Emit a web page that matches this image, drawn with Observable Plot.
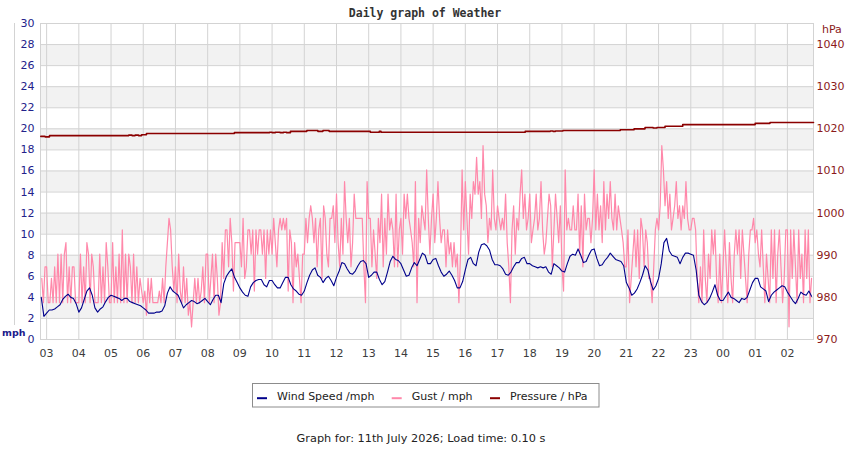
<!DOCTYPE html>
<html>
<head>
<meta charset="utf-8">
<script src="https://cdn.jsdelivr.net/npm/d3@7"></script>
<script src="https://cdn.jsdelivr.net/npm/@observablehq/plot@0.6"></script>
<style>
  html, body { margin: 0; padding: 0; background: #fff; }
  #wrap { position: relative; width: 850px; height: 450px; overflow: hidden; }
  #wrap svg { position: absolute; left: 0; top: 0; }
</style>
</head>
<body>
<div id="wrap"></div>
<script>
// ---- Weather log, one day (hours since midnight of the first day) ----

// Wind speed (mph), one reading every 5 minutes from 02:50
const windStart = 2 + 50 / 60;
const windStepH = 5 / 60;
const windMph = [
  4.0, 2.2,
  2.5, 2.8, 2.8, 2.9, 3.1, 3.3, 3.8, 4.1, 4.3, 4.0, 3.9, 3.4, // 03
  2.6, 3.0, 3.8, 4.6, 4.9, 4.2, 3.0, 2.6, 2.9, 3.1, 3.6, 4.0, // 04
  4.2, 4.1, 4.0, 3.9, 3.7, 3.9, 3.9, 3.6, 3.5, 3.4, 3.3, 3.2, // 05
  3.0, 2.8, 2.5, 2.5, 2.5, 2.6, 2.6, 2.7, 3.2, 4.4, 5.0, 4.6, // 06
  4.4, 4.2, 3.6, 3.0, 3.3, 3.5, 3.7, 3.6, 3.4, 3.5, 3.7, 3.9, // 07
  3.6, 3.3, 3.8, 4.2, 4.2, 3.5, 5.3, 6.0, 6.4, 6.7, 5.9, 5.4, // 08
  4.9, 4.5, 4.2, 4.1, 5.0, 5.4, 5.6, 5.7, 5.7, 5.2, 5.0, 5.6, // 09
  5.6, 5.2, 4.9, 4.9, 5.4, 5.9, 5.9, 5.2, 4.8, 4.6, 4.3, 4.2, // 10
  4.6, 5.4, 6.1, 6.6, 6.8, 6.1, 5.9, 5.4, 5.8, 6.0, 5.6, 5.1, // 11
  5.9, 6.5, 7.3, 7.2, 6.7, 6.3, 6.2, 6.5, 7.0, 7.4, 7.5, 7.2, // 12
  5.9, 6.1, 6.4, 6.4, 5.7, 5.2, 5.5, 6.4, 7.4, 7.9, 7.6, 7.5, // 13
  7.2, 6.6, 6.0, 6.1, 6.8, 7.3, 7.0, 7.6, 8.2, 8.0, 7.2, 7.2, // 14
  7.6, 7.7, 7.0, 6.4, 6.0, 6.2, 6.5, 6.1, 5.6, 4.9, 4.9, 5.5, // 15
  6.6, 7.6, 7.8, 7.2, 7.0, 8.3, 9.0, 9.1, 8.9, 8.5, 7.6, 7.1, // 16
  7.1, 7.0, 6.7, 6.2, 6.1, 6.4, 6.9, 7.3, 7.3, 7.7, 7.8, 7.2, // 17
  7.2, 7.0, 6.9, 6.8, 6.9, 6.8, 6.9, 6.4, 6.2, 7.2, 7.0, 6.8, // 18
  6.5, 6.4, 7.2, 7.9, 8.1, 8.0, 8.6, 8.0, 7.3, 7.4, 8.0, 8.5, // 19
  8.6, 7.7, 7.0, 7.1, 7.5, 7.8, 8.2, 7.9, 7.6, 7.5, 7.4, 7.0, // 20
  5.4, 4.9, 4.2, 4.4, 4.8, 5.4, 6.1, 7.0, 6.6, 5.5, 4.7, 5.1, // 21
  5.8, 7.2, 9.2, 9.6, 8.4, 8.0, 7.9, 7.8, 7.2, 7.8, 8.2, 8.2, // 22
  8.1, 8.0, 6.6, 4.2, 3.6, 3.3, 3.5, 3.9, 4.5, 5.2, 4.2, 3.7, // 23
  3.7, 4.1, 4.5, 4.0, 3.9, 3.7, 3.5, 3.9, 3.8, 4.0, 4.7, 5.4, // 00
  5.8, 5.8, 5.0, 4.8, 4.6, 3.6, 4.2, 4.5, 4.7, 4.9, 5.1, 5.0, // 01
  4.5, 4.1, 3.7, 3.4, 3.9, 4.5, 4.3, 4.2, 4.6, 4.1            // 02
];

// Gust (mph), one reading every 3 minutes from 02:51
const gustStart = 2 + 51 / 60;
const gustStepH = 3 / 60;
const gustMph = [
  5.8, 3.5, 6.9,
  6.9, 3.5, 3.5, 5.8, 3.5, 6.9, 3.5, 8.1, 3.5, 8.1, 3.5, 8.1, 9.2, 3.5, 6.9, 3.5, 6.9, 6.9, 3.5, 3.5, // 03
  3.5, 8.1, 3.5, 6.9, 3.5, 9.2, 8.1, 3.5, 8.1, 6.9, 3.5, 3.5, 3.5, 8.1, 3.5, 6.9, 3.5, 9.2, 6.9, 3.5, // 04
  3.5, 9.2, 3.5, 6.9, 3.5, 8.1, 3.5, 10.4, 3.5, 8.1, 3.5, 8.1, 6.9, 3.5, 8.1, 3.5, 6.9, 3.5, 5.8, 4.6, // 05
  3.5, 4.6, 2.3, 5.8, 3.5, 5.8, 3.5, 3.5, 3.5, 3.5, 4.6, 3.5, 5.8, 3.5, 6.9, 9.2, 11.5, 10.4, 6.9, 4.6, // 06
  6.9, 3.5, 8.1, 4.6, 3.5, 6.9, 3.5, 5.8, 2.3, 3.5, 1.2, 3.5, 5.8, 3.5, 5.8, 3.5, 4.6, 6.9, 3.5, 8.1, // 07
  8.1, 3.5, 5.8, 8.1, 3.5, 8.1, 5.8, 2.3, 3.5, 9.2, 5.8, 10.4, 10.4, 6.9, 11.5, 9.2, 4.6, 9.2, 9.2, 9.2, // 08
  9.2, 6.9, 11.5, 5.8, 6.9, 10.4, 10.4, 8.1, 10.4, 4.6, 10.4, 8.1, 10.4, 10.4, 8.1, 10.4, 5.8, 10.4, 8.1, 10.4, // 09
  8.1, 11.5, 9.2, 6.9, 10.4, 11.5, 10.4, 11.5, 10.4, 11.5, 4.6, 10.4, 9.2, 3.5, 9.2, 6.9, 8.1, 5.8, 3.5, 8.1, // 10
  8.1, 11.5, 9.2, 11.5, 12.7, 11.5, 9.2, 11.5, 6.9, 10.4, 11.5, 5.8, 12.7, 11.5, 8.1, 6.9, 11.5, 11.5, 12.7, 9.2, // 11
  13.8, 9.2, 6.9, 11.5, 8.1, 15.0, 11.5, 9.2, 11.5, 6.9, 9.2, 13.8, 11.5, 11.5, 11.5, 11.5, 11.5, 6.9, 3.5, 15.0, // 12
  11.5, 11.5, 6.9, 10.4, 8.1, 5.8, 11.5, 9.2, 13.8, 6.9, 11.5, 8.1, 13.8, 10.4, 11.5, 10.4, 6.9, 13.8, 6.9, 10.4, // 13
  11.5, 8.1, 13.8, 11.5, 13.8, 11.5, 10.4, 9.2, 6.9, 15.0, 3.5, 11.5, 9.2, 12.7, 11.5, 10.4, 16.1, 11.5, 8.1, 11.5, // 14
  13.8, 9.2, 11.5, 15.0, 11.5, 9.2, 10.4, 10.4, 6.9, 10.4, 8.1, 9.2, 6.9, 9.2, 6.9, 8.1, 3.5, 8.1, 16.1, 10.4, // 15
  15.0, 11.5, 8.1, 13.8, 11.5, 15.0, 13.8, 17.3, 13.8, 15.0, 11.5, 18.4, 13.8, 12.7, 9.2, 11.5, 10.4, 16.1, 11.5, 10.4, // 16
  12.7, 11.5, 10.4, 11.5, 10.4, 13.8, 9.2, 6.9, 3.5, 10.4, 12.7, 8.1, 11.5, 10.4, 13.8, 16.1, 11.5, 13.8, 10.4, 11.5, // 17
  13.8, 9.2, 10.4, 11.5, 13.8, 10.4, 11.5, 15.0, 10.4, 8.1, 9.2, 11.5, 13.8, 12.7, 6.9, 10.4, 13.8, 11.5, 9.2, 12.7, // 18
  6.9, 4.6, 16.1, 10.4, 11.5, 10.4, 10.4, 12.7, 10.4, 10.4, 13.8, 8.1, 12.7, 6.9, 13.8, 10.4, 11.5, 11.5, 9.2, 11.5, // 19
  16.1, 10.4, 13.8, 10.4, 12.7, 9.2, 15.0, 10.4, 13.8, 11.5, 15.0, 11.5, 10.4, 13.8, 10.4, 12.7, 11.5, 10.4, 9.2, 6.9, // 20
  6.9, 10.4, 3.5, 5.8, 8.1, 10.4, 6.9, 10.4, 5.8, 11.5, 10.4, 6.9, 10.4, 9.2, 5.8, 5.8, 3.5, 6.9, 10.4, 11.5, // 21
  10.4, 12.7, 18.4, 16.1, 12.7, 15.0, 11.5, 13.8, 10.4, 11.5, 12.7, 15.0, 11.5, 12.7, 10.4, 12.7, 11.5, 15.0, 11.5, 10.4, // 22
  10.4, 11.5, 11.5, 10.4, 5.8, 3.5, 6.9, 3.5, 10.4, 5.8, 3.5, 8.1, 5.8, 10.4, 8.1, 10.4, 5.8, 3.5, 8.1, 3.5, // 23
  6.9, 10.4, 6.9, 3.5, 9.2, 5.8, 3.5, 8.1, 10.4, 8.1, 10.4, 5.8, 10.4, 8.1, 5.8, 3.5, 8.1, 10.4, 10.4, 11.5, // 00
  9.2, 10.4, 8.1, 6.9, 10.4, 6.9, 3.5, 8.1, 5.8, 3.5, 10.4, 5.8, 10.4, 3.5, 8.1, 10.4, 6.9, 3.5, 5.8, 10.4, // 01
  10.4, 1.2, 10.4, 5.8, 10.4, 6.9, 3.5, 10.4, 5.8, 8.1, 3.5, 10.4, 5.8, 10.4, 3.5, 5.8 // 02
];

// Pressure (hPa): times at which the reading changed, and the new reading
const pressHour = [2.82, 2.95, 3.09, 5.55, 5.65, 5.75, 5.85, 5.95, 6.10, 8.83, 9.92, 10.0, 10.1, 10.25, 10.35, 10.45,
  10.57, 11.08, 11.42, 11.58, 11.77, 13.05, 13.33, 13.38, 17.86, 18.64, 18.72, 18.80, 19.03, 20.81, 21.24,
  21.58, 21.83, 21.95, 22.20, 22.75, 25.00, 25.46, 26.81];
const pressHpa = [1018.2, 1018.1, 1018.4, 1018.5, 1018.4, 1018.5, 1018.4, 1018.6, 1018.9, 1019.1, 1019.2, 1019.1, 1019.2, 1019.1, 1019.2, 1019.1,
  1019.4, 1019.6, 1019.4, 1019.6, 1019.4, 1019.2, 1019.4, 1019.2, 1019.4, 1019.5, 1019.4, 1019.5, 1019.6, 1019.8, 1020.0,
  1020.3, 1020.2, 1020.3, 1020.6, 1021.0, 1021.3, 1021.5, 1021.5];

// Axis ticks
const hourTicks = d3.range(3, 27);          // 03 … 02 next day
const mphTicks = d3.range(0, 31, 2);         // 0 … 30 mph
const hpaTicks = d3.range(970, 1041, 10);    // 970 … 1040 hPa

// Scale relation between the two y axes: 970 hPa at 0 mph, 10 hPa per 4 mph
const hpaBase = 970;
const hpaPerMph = 2.5;
const toMph = p => (p - hpaBase) / hpaPerMph;

const xDomain = [2.81, 26.81];
const yDomain = [0, 30];

const COLORS = { wind: "#00008b", gust: "#ff88aa", press: "#8b0000" };

const wind = windMph.map((v, i) => ({ t: windStart + i * windStepH, v }));
const gust = gustMph.map((v, i) => ({ t: gustStart + i * gustStepH, v }));
const press = pressHour.map((t, i) => ({ t, v: toMph(pressHpa[i]) }));

// Alternate shaded bands between the 2 mph gridlines
const bands = d3.range(2, 30, 4).map(b => ({ x1: xDomain[0], x2: xDomain[1], y1: b, y2: b + 2 }));

const GRID = "#d3d3d3";

const chart = Plot.plot({
  width: 850,
  height: 370,
  marginLeft: 40,
  marginRight: 37,
  marginTop: 23,
  marginBottom: 31,
  style: { fontFamily: "'DejaVu Sans', sans-serif", fontSize: "11px", background: "transparent", overflow: "visible" },
  x: { domain: xDomain, axis: null },
  y: { domain: yDomain, axis: null },
  marks: [
    Plot.rect(bands, { x1: "x1", x2: "x2", y1: "y1", y2: "y2", fill: "#f2f2f2" }),
    Plot.gridY({ ticks: mphTicks, stroke: GRID, strokeOpacity: 1 }),
    Plot.gridX({ ticks: hourTicks, stroke: GRID, strokeOpacity: 1 }),
    Plot.frame({ stroke: GRID }),
    Plot.line(gust, { x: "t", y: "v", stroke: COLORS.gust, strokeWidth: 1.2 }),
    Plot.line(wind, { x: "t", y: "v", stroke: COLORS.wind, strokeWidth: 1.1 }),
    Plot.line(press, { x: "t", y: "v", stroke: COLORS.press, strokeWidth: 1.6, curve: "step-after" }),
    Plot.axisX({ ticks: hourTicks, tickFormat: d => String(d % 24).padStart(2, "0"),
      tickSize: 0, tickPadding: 10, fill: "#3c3c3c", label: null }),
    Plot.axisY({ anchor: "left", ticks: mphTicks, tickSize: 0, tickPadding: 6,
      fill: "#22228b", label: null }),
    Plot.axisY({ anchor: "right", ticks: hpaTicks.map(toMph), tickFormat: d => String(hpaBase + d * hpaPerMph),
      tickSize: 0, tickPadding: 3, fill: "#8b1a1a", label: null })
  ]
});

const wrap = document.getElementById("wrap");
wrap.appendChild(chart);

// Title, unit labels, legend and footer
const over = d3.create("svg").attr("width", 850).attr("height", 450)
  .style("pointer-events", "none");

over.append("text")
  .attr("x", 425).attr("y", 16.7).attr("text-anchor", "middle")
  .attr("font-family", "'DejaVu Sans Mono', monospace").attr("font-size", 11.5)
  .attr("font-weight", "bold").attr("fill", "#333")
  .text("Daily graph of Weather");

over.append("line")
  .attr("x1", 14.5).attr("x2", 14.5).attr("y1", 23).attr("y2", 325)
  .attr("stroke", GRID);

over.append("text")
  .attr("x", 2).attr("y", 335.5)
  .attr("font-family", "'DejaVu Sans', sans-serif").attr("font-size", 9.5)
  .attr("font-weight", "bold").attr("fill", "#1a1a8b")
  .text("mph");

over.append("text")
  .attr("x", 822).attr("y", 33.3)
  .attr("font-family", "'DejaVu Sans', sans-serif").attr("font-size", 11)
  .attr("fill", "#8b1a1a")
  .text("hPa");

const legendItems = [
  { label: "Wind Speed /mph", color: COLORS.wind, x: 5 },
  { label: "Gust / mph", color: COLORS.gust, x: 139.7 },
  { label: "Pressure / hPa", color: COLORS.press, x: 238 }
];
const lg = over.append("g").attr("transform", "translate(252,383)");
lg.append("rect").attr("x", 0.5).attr("y", 0.5).attr("width", 346.5).attr("height", 23.5)
  .attr("fill", "#fff").attr("stroke", "#8c8c8c");
for (const it of legendItems) {
  lg.append("line").attr("x1", it.x).attr("x2", it.x + 10).attr("y1", 15.2).attr("y2", 15.2)
    .attr("stroke", it.color).attr("stroke-width", 2);
  lg.append("text").attr("x", it.x + 20).attr("y", 16.5)
    .attr("font-family", "'DejaVu Sans', sans-serif").attr("font-size", 11)
    .attr("fill", "#222").text(it.label);
}

over.append("text")
  .attr("x", 421).attr("y", 441.5).attr("text-anchor", "middle")
  .attr("font-family", "'DejaVu Sans', sans-serif").attr("font-size", 11.3)
  .attr("fill", "#222")
  .text("Graph for: 11th July 2026; Load time: 0.10 s");

wrap.appendChild(over.node());
</script>
</body>
</html>
